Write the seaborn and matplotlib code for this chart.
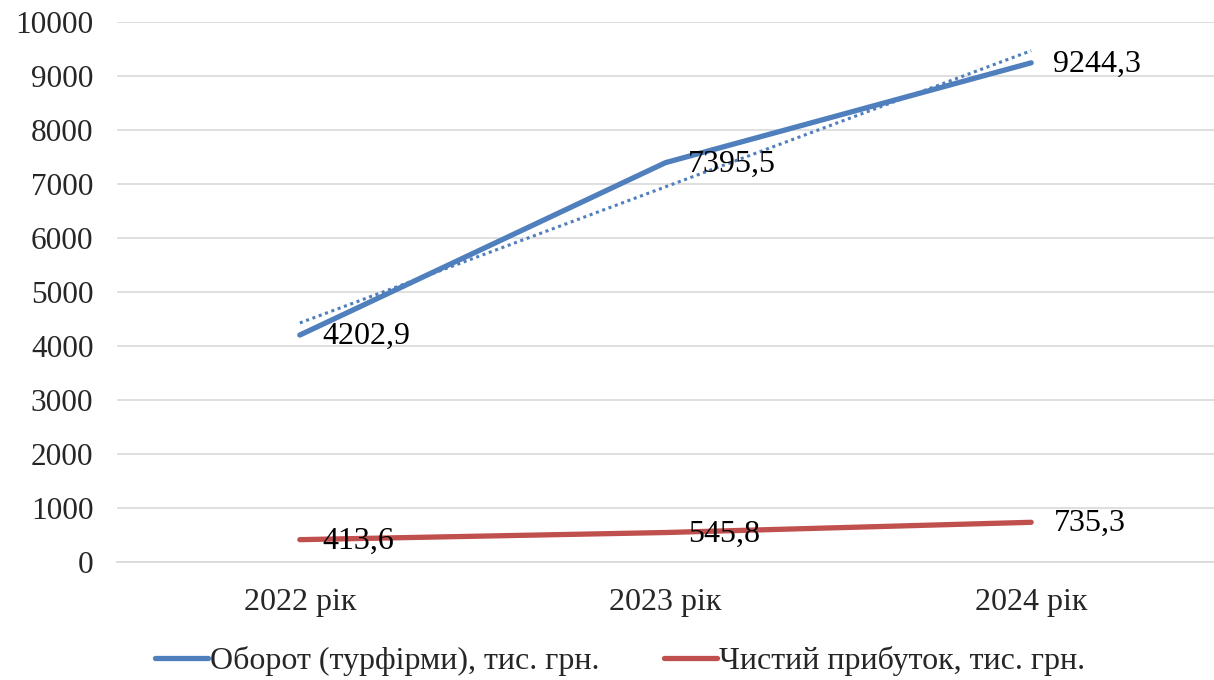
import numpy as np
import pandas as pd
import matplotlib
matplotlib.use("Agg")
import matplotlib.pyplot as plt
import seaborn as sns

categories = ["2022 рік", "2023 рік", "2024 рік"]
turnover = [4202.9, 7395.5, 9244.3]
profit = [413.6, 545.8, 735.3]
turnover_name = "Оборот (турфірми), тис. грн."
profit_name = "Чистий прибуток, тис. грн."
yticks = [0, 1000, 2000, 3000, 4000, 5000, 6000, 7000, 8000, 9000, 10000]

sns.set_style("white")
plt.rcParams['font.family'] = ['Liberation Serif', 'DejaVu Serif']

df = pd.DataFrame({
    "x": list(range(len(categories))) * 2,
    "value": turnover + profit,
    "series": [turnover_name] * 3 + [profit_name] * 3,
})

fig = plt.figure(figsize=(12.14, 6.8), dpi=100)
ax = fig.add_axes([117/1214, 1 - 562/680, 1 - 117/1214, 540/680])

blue = "#4F7FBD"
red = "#C0504D"
ax.grid(True, axis="y", color="#D9D9D9", linewidth=1.2, zorder=0)
ax.set_axisbelow(True)

# trendline for turnover (linear fit)
xs = np.arange(len(categories))
k, b = np.polyfit(xs, turnover, 1)
ax.plot(xs, k * xs + b, linestyle=(0, (1, 1.2)), color=blue, linewidth=2.2, zorder=2)

sns.lineplot(data=df, x="x", y="value", hue="series",
             palette=[blue, red], linewidth=3.8, ax=ax, legend=False, zorder=3)

for vals in (turnover, profit):
    for i, v in enumerate(vals):
        ax.annotate(f"{v:.1f}".replace(".", ","), (i, v), xytext=(16, -1),
                    textcoords="offset points", ha="left", va="center",
                    fontsize=23, color="black", zorder=4)

ax.set_xlim(-0.5, 2.5)
ax.set_ylim(0, 10000)
ax.set_xticks(xs)
ax.set_xticklabels(categories)
ax.set_yticks(yticks)
ax.set_yticklabels([str(t) for t in yticks])
ax.tick_params(axis="x", labelsize=23, pad=19, length=0)
ax.tick_params(axis="y", labelsize=22.5, pad=17, length=0)
ax.set_xlabel("")
ax.set_ylabel("")
for s in ["top", "right", "left"]:
    ax.spines[s].set_visible(False)
ax.spines["bottom"].set_color("#D9D9D9")
ax.spines["bottom"].set_linewidth(1.2)

from matplotlib.lines import Line2D
handles = [Line2D([0], [0], color=blue, linewidth=3.8),
           Line2D([0], [0], color=red, linewidth=3.8)]
fig.legend(handles, [turnover_name, profit_name], loc="center",
           bbox_to_anchor=(620/1214, 1 - 661/680), ncol=2, frameon=False,
           fontsize=23, handlelength=1.66, handletextpad=0.08, columnspacing=2.0)

fig.savefig("out.png", dpi=100)
